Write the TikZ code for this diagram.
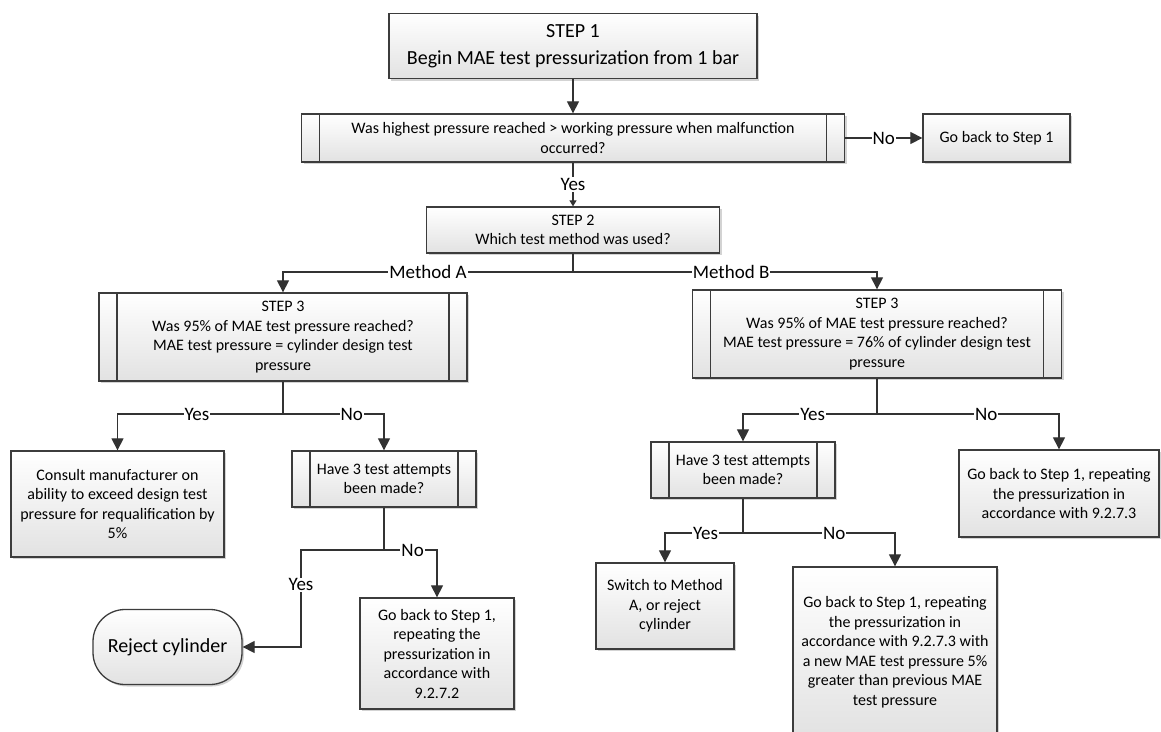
\documentclass[tikz,border=0pt]{standalone}
\usepackage{fontspec}
\setmainfont{Carlito}
\usetikzlibrary{arrows.meta,shadows,calc}
\definecolor{bordc}{RGB}{60,60,60}
\definecolor{linec}{RGB}{50,50,50}
\definecolor{boxbot}{RGB}{226,226,226}
\newcommand\fbody{\fontsize{16}{19.5}\selectfont}
\newcommand\fbig{\fontsize{20}{27}\selectfont}
\newcommand\flbl{\fontsize{19}{22}\selectfont}
\begin{document}
\begin{tikzpicture}[x=1pt,y=-1pt,
  box/.style={draw=bordc, line width=1.3pt, top color=white, bottom color=boxbot,
    drop shadow={shadow xshift=2pt, shadow yshift=-2pt, fill=gray, opacity=.35},
    align=center, inner sep=2pt, font=\fbody},
  pbox/.style={box, path picture={
    \draw[line width=1.3pt, draw=bordc]
      ([xshift=18pt]path picture bounding box.north west) -- ([xshift=18pt]path picture bounding box.south west)
      ([xshift=-18pt]path picture bounding box.north east) -- ([xshift=-18pt]path picture bounding box.south east);}},
  conn/.style={draw=linec, line width=1.2pt},
  tip/.style={-{Triangle[length=12pt,width=12pt]}},
  smalltip/.style={-{Triangle[length=6pt,width=7pt]}},
  lbl/.style={fill=white, inner sep=1pt, font=\flbl, text=black}]
\path[use as bounding box] (0,0) rectangle (1161,731);
\clip (0,0) rectangle (1161,731);

% nodes
\node[box, minimum width=368pt, minimum height=65pt, font=\fbig] (s1) at (573,46)
  {STEP 1\\Begin MAE test pressurization from 1 bar};
\node[pbox, minimum width=543pt, minimum height=48pt] (d1) at (573,138)
  {Was highest pressure reached > working pressure when malfunction\\occurred?};
\node[box, minimum width=147pt, minimum height=48pt] (gb1) at (996.5,138)
  {Go back to Step 1};
\node[box, minimum width=293pt, minimum height=46pt] (s2) at (573,230)
  {STEP 2\\Which test method was used?};

\node[pbox, minimum width=368pt, minimum height=88pt] (s3a) at (283,337)
  {STEP 3\\Was 95\% of MAE test pressure reached?\\MAE test pressure = cylinder design test\\pressure};
\node[pbox, minimum width=369pt, minimum height=88pt] (s3b) at (877,334)
  {STEP 3\\Was 95\% of MAE test pressure reached?\\MAE test pressure = 76\% of cylinder design test\\pressure};

\node[box, minimum width=213pt, minimum height=106pt] (cons) at (117.5,504)
  {Consult manufacturer on\\ability to exceed design test\\pressure for requalification by\\5\%};
\node[pbox, minimum width=184pt, minimum height=56pt] (h3a) at (384,479)
  {Have 3 test attempts\\been made?};
\node[box, rounded corners=32pt, minimum width=149pt, minimum height=75pt, font=\fontsize{20}{24}\selectfont] (rej) at (167.5,647)
  {Reject cylinder};
\node[box, minimum width=154pt, minimum height=111pt] (gba) at (437,653.5)
  {Go back to Step 1,\\repeating the\\pressurization in\\accordance with\\9.2.7.2};

\node[pbox, minimum width=184pt, minimum height=56pt] (h3b) at (743,470)
  {Have 3 test attempts\\been made?};
\node[box, minimum width=200pt, minimum height=87pt] (gb2) at (1059,493.5)
  {Go back to Step 1, repeating\\the pressurization in\\accordance with 9.2.7.3};
\node[box, minimum width=138pt, minimum height=86pt] (sw) at (665,606)
  {Switch to Method\\A, or reject\\cylinder};
\node[box, minimum width=204pt, minimum height=170pt] (gbl) at (895,652)
  {Go back to Step 1, repeating\\the pressurization in\\accordance with 9.2.7.3 with\\a new MAE test pressure 5\%\\greater than previous MAE\\test pressure};

% junctions
\coordinate (j1) at (573,272);
\coordinate (j2) at (283,414);
\coordinate (j3) at (384,550);
\coordinate (c3) at (301,550);
\coordinate (j4) at (877,414);
\coordinate (j5) at (743,533);

% connectors
\draw[conn,tip] (s1.south) -- (d1.north);
\draw[conn,tip] (d1.east) -- node[lbl] (lno1) {No} (gb1.west);
\draw[conn,smalltip] (d1.south) -- node[lbl] (lyes1) {Yes} (s2.north);

\draw[conn] (s2.south) -- (j1);
\draw[conn,tip] (j1) -| node[lbl,pos=0.25] (lma) {Method A} (s3a.north);
\draw[conn,tip] (j1) -| node[lbl,pos=0.26] (lmb) {Method B} (s3b.north);

\draw[conn] (s3a.south) -- (j2);
\draw[conn,tip] (j2) -| node[lbl,pos=0.26] (lya) {Yes} (cons.north);
\draw[conn,tip] (j2) -| node[lbl,pos=0.34] (lna) {No} (h3a.north);

\draw[conn] (h3a.south) -- (j3);
\draw[conn,tip] (j3) -- (c3) |- node[lbl,pos=0.18] (lya2) {Yes} (rej.east);
\draw[conn,tip] (j3) -| node[lbl,pos=0.27] (lna2) {No} (gba.north);

\draw[conn] (s3b.south) -- (j4);
\draw[conn,tip] (j4) -| node[lbl,pos=0.24] (lyb) {Yes} (h3b.north);
\draw[conn,tip] (j4) -| node[lbl,pos=0.3] (lnb) {No} (gb2.north);

\draw[conn] (h3b.south) -- (j5);
\draw[conn,tip] (j5) -| node[lbl,pos=0.24] (lyb2) {Yes} (sw.north);
\draw[conn,tip] (j5) -| node[lbl,pos=0.3] (lnb2) {No} (gbl.north);
\end{tikzpicture}
\end{document}
